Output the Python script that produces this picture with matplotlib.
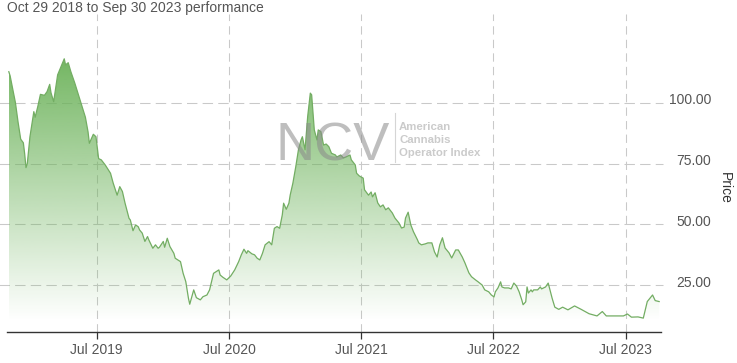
import numpy as np
import pandas as pd
import matplotlib
matplotlib.use('Agg')
import matplotlib.pyplot as plt
import matplotlib.dates as mdates
import matplotlib.transforms as mtransforms
from matplotlib.patches import PathPatch

plt.rcParams['font.family'] = ['Liberation Sans', 'DejaVu Sans']

# decimal year of each sample
years = [2018.83, 2018.84, 2018.88, 2018.90, 2018.92, 2018.94, 2018.95, 2018.96, 2018.97, 2018.99,
         2019.02, 2019.03, 2019.05, 2019.07, 2019.10, 2019.12, 2019.14, 2019.15, 2019.17, 2019.18,
         2019.20, 2019.22, 2019.25, 2019.26, 2019.28, 2019.30, 2019.33, 2019.37, 2019.41, 2019.43,
         2019.44, 2019.47, 2019.49, 2019.51, 2019.53, 2019.56, 2019.60, 2019.62, 2019.65, 2019.67,
         2019.69, 2019.71, 2019.74, 2019.75, 2019.77, 2019.79, 2019.81, 2019.82, 2019.84, 2019.86,
         2019.88, 2019.89, 2019.92, 2019.94, 2019.96, 2019.97, 2020.00, 2020.01, 2020.03, 2020.05,
         2020.08, 2020.09, 2020.11, 2020.13, 2020.15, 2020.17, 2020.19, 2020.20, 2020.23, 2020.25,
         2020.27, 2020.28, 2020.30, 2020.33, 2020.35, 2020.38, 2020.40, 2020.42, 2020.43, 2020.45,
         2020.48, 2020.51, 2020.54, 2020.57, 2020.59, 2020.61, 2020.63, 2020.64, 2020.67, 2020.69,
         2020.71, 2020.73, 2020.75, 2020.77, 2020.80, 2020.82, 2020.84, 2020.86, 2020.88, 2020.90,
         2020.91, 2020.93, 2020.95, 2020.96, 2020.98, 2021.00, 2021.02, 2021.04, 2021.05, 2021.07,
         2021.09, 2021.11, 2021.12, 2021.14, 2021.16, 2021.17, 2021.19, 2021.21, 2021.23, 2021.25,
         2021.27, 2021.30, 2021.31, 2021.34, 2021.36, 2021.38, 2021.41, 2021.42, 2021.45, 2021.46,
         2021.48, 2021.51, 2021.52, 2021.55, 2021.57, 2021.58, 2021.60, 2021.62, 2021.64, 2021.66,
         2021.68, 2021.70, 2021.73, 2021.75, 2021.78, 2021.80, 2021.82, 2021.83, 2021.85, 2021.87,
         2021.89, 2021.92, 2021.93, 2021.95, 2021.98, 2022.00, 2022.03, 2022.05, 2022.07, 2022.09,
         2022.11, 2022.13, 2022.16, 2022.18, 2022.21, 2022.23, 2022.26, 2022.28, 2022.31, 2022.33,
         2022.36, 2022.38, 2022.41, 2022.43, 2022.46, 2022.48, 2022.50, 2022.51, 2022.53, 2022.55,
         2022.56, 2022.58, 2022.61, 2022.63, 2022.65, 2022.67, 2022.69, 2022.71, 2022.72, 2022.74,
         2022.75, 2022.76, 2022.78, 2022.79, 2022.80, 2022.83, 2022.85, 2022.86, 2022.89, 2022.91,
         2022.94, 2022.96, 2022.99, 2023.02, 2023.06, 2023.11, 2023.16, 2023.22, 2023.28, 2023.32,
         2023.35, 2023.43, 2023.48, 2023.51, 2023.54, 2023.59, 2023.63, 2023.66, 2023.70, 2023.72,
         2023.75]

price = [112.7, 111.0, 100.0, 92.0, 85.0, 83.5, 79.0, 73.3, 75.0, 86.0,
         96.3, 94.0, 98.4, 103.4, 103.0, 104.5, 107.5, 104.0, 100.4, 104.0,
         111.4, 114.0, 118.0, 115.5, 116.4, 112.7, 108.0, 101.0, 94.0, 88.0,
         83.3, 87.0, 86.0, 77.0, 76.5, 74.4, 71.0, 67.0, 62.0, 65.5,
         63.5, 58.7, 52.5, 51.8, 47.4, 49.8, 49.0, 47.7, 46.4, 43.0,
         45.0, 43.6, 40.2, 41.6, 40.2, 40.6, 43.0, 40.6, 44.3, 40.9,
         38.1, 36.1, 35.4, 34.7, 29.9, 26.5, 19.7, 17.2, 23.1, 19.9,
         19.3, 19.0, 20.3, 21.0, 23.1, 29.9, 30.6, 31.3, 29.2, 28.3,
         27.2, 28.8, 31.3, 34.7, 37.5, 39.8, 38.1, 39.2, 37.9, 37.5,
         36.1, 35.4, 38.1, 41.6, 42.9, 41.6, 48.4, 49.1, 48.4, 53.9,
         58.7, 56.2, 58.7, 62.1, 66.9, 73.7, 80.6, 84.7, 86.0, 80.6,
         94.3, 103.9, 103.2, 88.8, 84.7, 88.8, 88.1, 82.6, 83.0, 81.9,
         79.2, 78.5, 77.7, 78.5, 77.3, 77.7, 78.5, 76.5, 74.4, 71.0,
         69.9, 69.0, 64.2, 62.0, 63.3, 61.3, 63.0, 58.8, 57.2, 58.0,
         56.0, 56.8, 54.7, 52.6, 50.6, 48.5, 48.9, 52.6, 55.0, 49.8,
         47.0, 43.7, 42.4, 41.6, 42.0, 42.4, 42.4, 38.7, 36.6, 41.6,
         44.5, 40.3, 38.3, 36.2, 39.5, 39.5, 36.6, 34.2, 30.1, 28.5,
         27.2, 26.4, 25.1, 23.1, 22.3, 21.0, 20.2, 22.3, 23.9, 26.4,
         24.3, 23.9, 23.9, 23.5, 25.9, 24.7, 22.3, 19.0, 17.0, 18.2,
         24.3, 21.8, 23.1, 22.3, 23.1, 23.1, 24.3, 23.5, 24.3, 25.9,
         19.6, 16.0, 15.1, 16.0, 14.9, 16.5, 15.1, 13.3, 12.4, 14.2,
         12.4, 12.4, 12.4, 13.2, 11.9, 12.0, 11.5, 18.3, 21.0, 18.7,
         18.3]

y_ticks = [25, 50, 75, 100]
x_ticks = ['2019-07-01', '2020-07-01', '2021-07-01', '2022-07-01', '2023-07-01']
title = 'Oct 29 2018 to Sep 30 2023 performance'


def to_date(y):
    yr = int(np.floor(y))
    start = pd.Timestamp(year=yr, month=1, day=1)
    return start + pd.Timedelta(days=(y - yr) * 365.25)


dates = [to_date(y) for y in years]
xnum = mdates.date2num(dates)
price = np.array(price)

fig = plt.figure(figsize=(7.37, 3.63), dpi=100)
W, H = 737, 363
ax = fig.add_axes([7.3 / W, 1 - 332 / H, (661 - 7.3) / W, (332 - 14) / H])
ax.set_xlim(mdates.date2num(pd.Timestamp('2018-10-27')), mdates.date2num(pd.Timestamp('2023-10-07')))
ax.set_ylim(5.8, 136.4)

grid_c = '#c9c9c9'
for t in x_ticks:
    ax.axvline(mdates.date2num(pd.Timestamp(t)), color=grid_c, lw=0.75, ls=(0, (8, 5)), zorder=0)
for v in y_ticks:
    ax.axhline(v, xmin=-0.012, xmax=1.003, color=grid_c, lw=0.75, ls=(0, (10, 5)), zorder=0, clip_on=False)

# gradient fill under the line
green = np.array([109, 179, 91]) / 255.0
n = 256
alpha = np.linspace(0.0, 0.95, n).reshape(n, 1)
img = np.zeros((n, 1, 4))
img[:, :, :3] = green
img[:, :, 3] = alpha
ymax = price.max()
ybot = 10.5
im = ax.imshow(img, aspect='auto', origin='lower', extent=[xnum[0], xnum[-1], ybot, ymax], zorder=1,
               interpolation='bilinear')
poly = ax.fill_between(xnum, price, ax.get_ylim()[0], color='none', lw=0)
clip_path = poly.get_paths()[0]
patch = PathPatch(clip_path, transform=ax.transData, facecolor='none', edgecolor='none')
ax.add_patch(patch)
im.set_clip_path(patch)
ax.plot(xnum, price, color='#73ad63', lw=0.9, zorder=3)

# watermark
ax.text(0.497, 0.583, 'NCV', transform=ax.transAxes, fontsize=39, color='#8a8a8a', alpha=0.55,
        ha='center', va='center', zorder=4)
fig.add_artist(plt.Line2D([395 / W, 395 / W], [1 - 113 / H, 1 - 162 / H], color='#d5d5d5', lw=0.8))
for i, s in enumerate(['American', 'Cannabis', 'Operator Index']):
    fig.text(399 / W, 1 - (127 + i * 13) / H, s, fontsize=8.2, fontweight='bold', color='#cbcbcb',
             ha='left', va='center')

for sp in ['top', 'left', 'right']:
    ax.spines[sp].set_visible(False)
ax.spines['bottom'].set_color('#333333')
ax.spines['bottom'].set_linewidth(1.0)

ax.set_xticks([mdates.date2num(pd.Timestamp(t)) for t in x_ticks])
ax.set_xticklabels([pd.Timestamp(t).strftime('%b %Y') for t in x_ticks])
ax.tick_params(axis='x', length=5, width=0.9, color='#333333', labelsize=10, labelcolor='#555555', pad=3)

ax.yaxis.tick_right()
ax.set_yticks(y_ticks)
ax.set_yticklabels(['%.2f' % v for v in y_ticks])
ax.tick_params(axis='y', length=0, labelsize=10, labelcolor='#555555', pad=36)
off = mtransforms.ScaledTranslation(0, 4 / 100, fig.dpi_scale_trans)
for lab in ax.get_yticklabels():
    lab.set_horizontalalignment('right')
    lab.set_transform(lab.get_transform() + off)

fig.text(725 / W, 1 - 188 / H, 'Price', rotation=270, fontsize=10, color='#333333', ha='center', va='center')
fig.text(7 / W, 1 - 8 / H, title, fontsize=10, color='#555555', ha='left', va='center')

fig.savefig('out.png', dpi=100)
